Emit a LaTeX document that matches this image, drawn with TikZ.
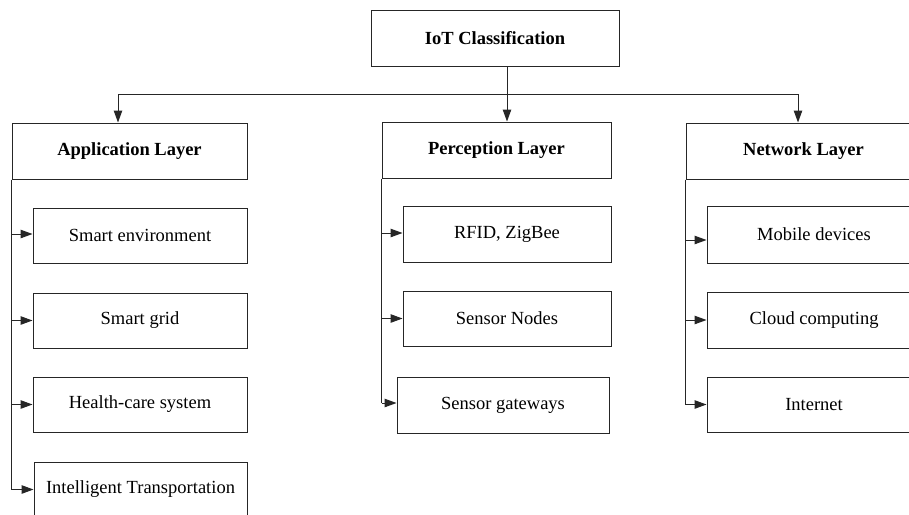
\documentclass[tikz,border=0pt]{standalone}
\usepackage{fontspec}
\setmainfont{Liberation Serif}
\usetikzlibrary{arrows.meta}
\begin{document}
\begin{tikzpicture}[x=1pt,y=-1pt,
  box/.style={draw=black!85, line width=1pt, inner sep=0pt, anchor=center,
    font=\fontsize{18.5}{22}\selectfont},
  head/.style={box, minimum height=56pt, font=\fontsize{18.5}{22}\selectfont\bfseries},
  item/.style={box, minimum height=55pt},
  wire/.style={draw=black!85, line width=1pt},
  arr/.style={wire, -{Triangle[length=12pt,width=8.5pt]}}]
\clip (0,0) rectangle (909,514);
\fill[white] (0,0) rectangle (909,514);

% root and layer headers
\node[head, minimum width=248pt] (root) at (495,38) {IoT Classification};
\node[head, minimum width=235pt] (app)  at (129.5,151) {Application Layer};
\node[head, minimum width=229pt] (perc) at (496.5,150) {Perception Layer};
\node[head, minimum width=235pt] (net)  at (803.5,151) {Network Layer};

% application layer items
\node[item, minimum width=214pt] (env)  at (140,235.5) {Smart environment};
\node[item, minimum width=214pt] (grid) at (140,320.5) {Smart grid};
\node[item, minimum width=214pt] (hc)   at (140,404.5) {Health-care system};
\node[item, minimum width=213pt] (its)  at (140.5,489.5) {Intelligent Transportation};

% perception layer items
\node[item, minimum width=208pt, minimum height=56pt] (rfid) at (507,234) {RFID, ZigBee};
\node[item, minimum width=208pt] (sn)   at (507,318.5) {Sensor Nodes};
\node[item, minimum width=212pt, minimum height=56pt] (sg) at (503,405) {Sensor gateways};

% network layer items
\node[item, minimum width=214pt, minimum height=57pt] (mob) at (814,234.5) {Mobile devices};
\node[item, minimum width=214pt, minimum height=56pt] (cc)  at (814,320) {Cloud computing};
\node[item, minimum width=214pt] (inet) at (814,404.5) {Internet};

% distribution bus from the root to the three layers
\coordinate (busL) at (118,94);
\coordinate (busM) at (507,94);
\coordinate (busR) at (798,94);
\draw[wire] (busM |- root.south) -- (busM);
\draw[wire] (busL) -- (busR);
\draw[arr] (busL) -- (busL |- app.north);
\draw[arr] (busM) -- (busM |- perc.north);
\draw[arr] (busR) -- (busR |- net.north);

% application layer spine
\draw[wire] (app.south west) -- (app.south west |- its.west);
\draw[arr] ([yshift=1.5pt]app.south west |- env.west)  -- ([yshift=1.5pt]env.west);
\draw[arr] (app.south west |- grid.west) -- (grid.west);
\draw[arr] (app.south west |- hc.west)   -- (hc.west);
\draw[arr] (app.south west |- its.west)  -- (its.west);

% perception layer spine
\draw[wire] (perc.south west) -- ([yshift=2pt]perc.south west |- sg.west);
\draw[arr] ([yshift=1pt]perc.south west |- rfid.west) -- ([yshift=1pt]rfid.west);
\draw[arr] (perc.south west |- sn.west)   -- (sn.west);
\draw[arr] ([yshift=2pt]perc.south west |- sg.west) -- ([yshift=2pt]sg.west);

% network layer spine
\draw[wire] (net.south west) -- (net.south west |- inet.west);
\draw[arr] ([yshift=-5.5pt]net.south west |- mob.west) -- ([yshift=-5.5pt]mob.west);
\draw[arr] (net.south west |- cc.west)   -- (cc.west);
\draw[arr] (net.south west |- inet.west) -- (inet.west);
\end{tikzpicture}
\end{document}
